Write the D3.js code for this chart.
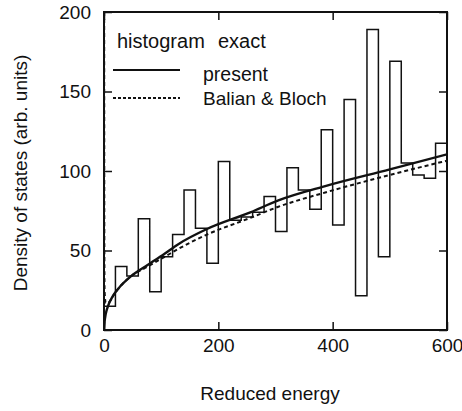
<!DOCTYPE html>
<html>
<head>
<meta charset="utf-8">
<script src="https://cdn.jsdelivr.net/npm/d3@7"></script>
<style>
  body { margin: 0; background: #fff; }
  text { font-family: "Liberation Sans", Arial, sans-serif; fill: #111; }
</style>
</head>
<body>
<div id="chart"></div>
<script>
////////////////////////// data //////////////////////////

// histogram (exact), 20-wide bins from 0 to 600
var binEdges = [0, 20, 40, 60, 80, 100, 120, 140, 160, 180, 200, 220, 240, 260, 280,
  300, 320, 340, 360, 380, 400, 420, 440, 460, 480, 500, 520, 540, 560, 580, 600];
var binValues = [15, 40, 34, 70, 24, 46, 60, 88, 64, 42, 106, 69, 71, 74, 84,
  62, 102, 88, 76, 126, 66, 145, 21.5, 189, 46, 169, 105, 97.5, 95.5, 117.5];

// "present" smooth curve
var presentX = [0, 1, 3, 7, 15, 25, 48, 77, 106, 130, 180, 256, 305, 387, 500, 600];
var presentY = [0, 5, 10, 15, 21, 26, 34, 41, 48, 54, 63.5, 74, 81.5, 90.5, 101, 110.5];

// Balian & Bloch curve
var balianX = [0.3, 0.6, 1, 3, 7, 15, 25, 48, 77, 106, 130, 180, 256, 305, 387, 500, 600];
var balianY = [200, 60, 25, 17, 17, 21, 26, 34, 40, 46, 51, 60, 70.5, 77.5, 86.5, 97.5, 106.5];

var xTicks = [0, 200, 400, 600];
var yTicks = [0, 50, 100, 150, 200];

////////////////////////// layout //////////////////////////
var W = 462, H = 411;
var margin = { top: 12, right: 15, bottom: 81, left: 104 },
  width = W - margin.left - margin.right,
  height = H - margin.top - margin.bottom;

var svg = d3.select("#chart").append("svg")
  .attr("width", W)
  .attr("height", H);

var g = svg.append("g")
  .attr("transform", "translate(" + margin.left + "," + margin.top + ")");

var x = d3.scaleLinear().domain([0, 600]).range([0, width]);
var y = d3.scaleLinear().domain([0, 200]).range([height, 0]);

// clip so the curve spike at E=0 stays inside the frame
g.append("clipPath").attr("id", "plotclip")
  .append("rect").attr("width", width).attr("height", height);

var plot = g.append("g").attr("clip-path", "url(#plotclip)");

// histogram as a step line
var steps = binValues.map(function (v, i) { return [binEdges[i], v]; });
steps.push([600, binValues[binValues.length - 1]]);
steps.unshift([0, 0]);

plot.append("path")
  .datum(steps)
  .attr("fill", "none")
  .attr("stroke", "#111")
  .attr("stroke-width", 1.5)
  .attr("d", d3.line()
    .x(function (d) { return x(d[0]); })
    .y(function (d) { return y(d[1]); })
    .curve(d3.curveStepAfter));

// Balian & Bloch (dashed)
plot.append("path")
  .datum(balianX.map(function (v, i) { return [v, balianY[i]]; }))
  .attr("fill", "none")
  .attr("stroke", "#111")
  .attr("stroke-width", 2)
  .attr("stroke-dasharray", "4,3")
  .attr("d", d3.line()
    .x(function (d) { return x(d[0]); })
    .y(function (d) { return y(d[1]); })
    .curve(d3.curveMonotoneX));

// present (solid)
plot.append("path")
  .datum(presentX.map(function (v, i) { return [v, presentY[i]]; }))
  .attr("fill", "none")
  .attr("stroke", "#111")
  .attr("stroke-width", 2.4)
  .attr("d", d3.line()
    .x(function (d) { return x(d[0]); })
    .y(function (d) { return y(d[1]); })
    .curve(d3.curveMonotoneX));

////////////////////////// axes, ticks inward on all four sides //////////////////////////
var tickLen = 8;

function styleAxis(sel) {
  sel.select(".domain").remove();
  sel.selectAll(".tick line").attr("stroke", "#111").attr("stroke-width", 1.5);
  sel.selectAll("text")
    .style("font-family", "'Liberation Sans', Arial, sans-serif")
    .style("font-size", "19px")
    .attr("fill", "#111");
}

g.append("g")
  .attr("transform", "translate(0," + height + ")")
  .call(d3.axisBottom(x).tickValues(xTicks).tickSizeInner(-tickLen).tickSizeOuter(0).tickPadding(9))
  .call(styleAxis);

g.append("g")
  .call(d3.axisLeft(y).tickValues(yTicks).tickSizeInner(-tickLen).tickSizeOuter(0).tickPadding(13))
  .call(styleAxis);

g.append("g")
  .call(d3.axisTop(x).tickValues(xTicks).tickSizeInner(-tickLen).tickSizeOuter(0).tickFormat(""))
  .call(styleAxis);

g.append("g")
  .attr("transform", "translate(" + width + ",0)")
  .call(d3.axisRight(y).tickValues(yTicks).tickSizeInner(-tickLen).tickSizeOuter(0).tickFormat(""))
  .call(styleAxis);

// frame
g.append("rect")
  .attr("width", width)
  .attr("height", height)
  .attr("fill", "none")
  .attr("stroke", "#111")
  .attr("stroke-width", 2);

////////////////////////// axis titles //////////////////////////
svg.append("text")
  .attr("x", 270)
  .attr("y", 400)
  .attr("text-anchor", "middle")
  .style("font-size", "19px")
  .text("Reduced energy");

svg.append("text")
  .attr("transform", "translate(27,173) rotate(-90)")
  .attr("text-anchor", "middle")
  .style("font-size", "19px")
  .text("Density of states (arb. units)");

////////////////////////// legend //////////////////////////
svg.append("text").attr("x", 117).attr("y", 48).style("font-size", "20px").text("histogram");
svg.append("text").attr("x", 218).attr("y", 48).style("font-size", "20px").text("exact");

svg.append("line")
  .attr("x1", 113).attr("x2", 180).attr("y1", 70).attr("y2", 70)
  .attr("stroke", "#111").attr("stroke-width", 2.2);
svg.append("text").attr("x", 203).attr("y", 81).style("font-size", "19.5px").text("present");

svg.append("line")
  .attr("x1", 113).attr("x2", 180).attr("y1", 98).attr("y2", 98)
  .attr("stroke", "#111").attr("stroke-width", 2)
  .attr("stroke-dasharray", "3,2");
svg.append("text").attr("x", 203).attr("y", 105).style("font-size", "19px").text("Balian & Bloch");
</script>
</body>
</html>
